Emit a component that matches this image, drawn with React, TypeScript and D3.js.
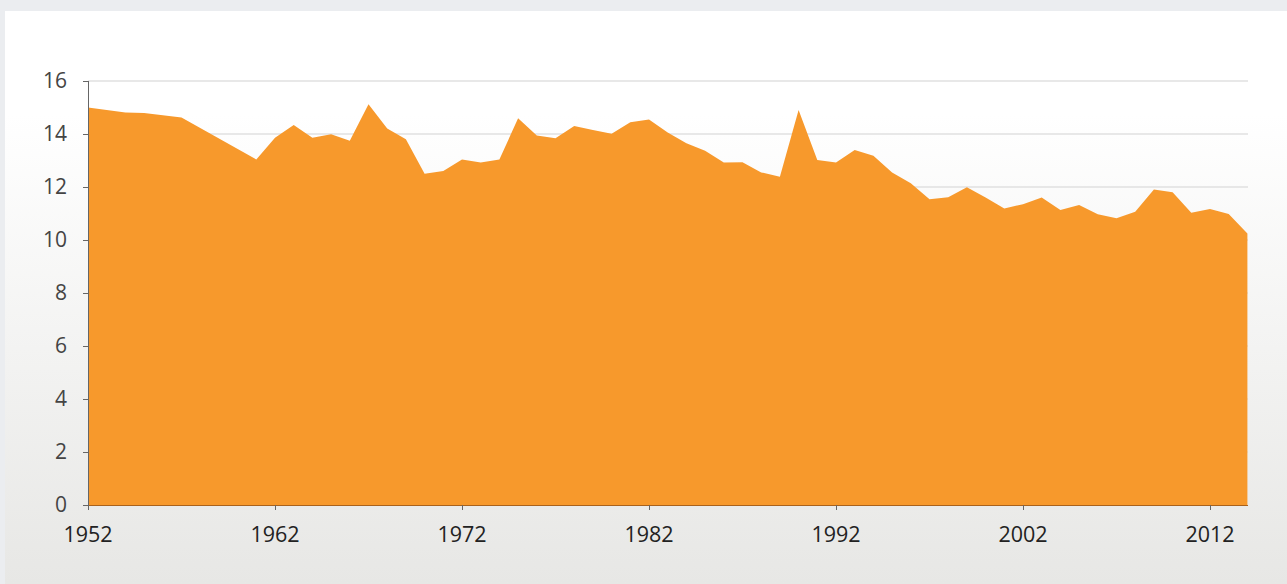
import React from "react";
import * as d3 from "d3";

const years = [1952, 1954, 1955, 1957, 1961, 1962, 1963, 1964, 1965, 1966, 1967, 1968, 1969, 1970, 1971, 1972, 1973, 1974, 1975, 1976, 1977, 1978, 1979, 1980, 1981, 1982, 1983, 1984, 1985, 1986, 1987, 1988, 1989, 1990, 1991, 1992, 1993, 1994, 1995, 1996, 1997, 1998, 1999, 2000, 2001, 2002, 2003, 2004, 2005, 2006, 2007, 2008, 2009, 2010, 2011, 2012, 2013, 2014];
const values = [15.0, 14.81, 14.79, 14.62, 13.04, 13.86, 14.34, 13.86, 13.99, 13.75, 15.12, 14.21, 13.8, 12.5, 12.6, 13.04, 12.92, 13.04, 14.59, 13.94, 13.84, 14.3, 14.15, 14.01, 14.44, 14.55, 14.06, 13.65, 13.37, 12.92, 12.93, 12.55, 12.39, 14.91, 13.02, 12.92, 13.4, 13.18, 12.55, 12.14, 11.54, 11.61, 11.99, 11.6, 11.19, 11.35, 11.6, 11.13, 11.32, 10.97, 10.82, 11.07, 11.91, 11.8, 11.03, 11.17, 10.98, 10.25];
const yTicks = [0, 2, 4, 6, 8, 10, 12, 14, 16];
const xTicks = [1952, 1962, 1972, 1982, 1992, 2002, 2012];

export default function App() {
  const W = 1287, H = 584;
  const x = d3.scaleLinear().domain([1952, 2014]).range([88, 1247.4]);
  const y = d3.scaleLinear().domain([0, 16]).range([505, 81]);
  const data = years.map((yr, i) => ({ yr, v: values[i] }));
  const area = d3.area<{ yr: number; v: number }>()
    .x(d => x(d.yr))
    .y0(y(0))
    .y1(d => y(d.v));
  const font = "'Open Sans', 'Noto Sans', sans-serif";
  return (
    <svg width={W} height={H} style={{ position: "absolute", left: 0, top: 0, display: "block" }}>
      <defs>
        <linearGradient id="bg" x1="0" y1="0" x2="0" y2="1">
          <stop offset="0%" stopColor="#ffffff" />
          <stop offset="18%" stopColor="#ffffff" />
          <stop offset="100%" stopColor="#e7e7e5" />
        </linearGradient>
      </defs>
      <rect x={0} y={0} width={W} height={H} fill="#ebedf0" />
      <rect x={5} y={11} width={W - 5} height={H - 11} fill="url(#bg)" />
      {yTicks.filter(t => t > 0).map(t => (
        <line key={"g" + t} x1={88} x2={1248} y1={y(t)} y2={y(t)} stroke="#e0e0e0" strokeWidth={1.5} />
      ))}
      <path d={area(data) || ""} fill="#f7992c" />
      <line x1={88} x2={1248} y1={y(0) + 0.5} y2={y(0) + 0.5} stroke="#a9621c" strokeWidth={1} />
      <line x1={88.5} x2={88.5} y1={y(16)} y2={y(0) + 1} stroke="#666" strokeWidth={1} />
      {yTicks.map(t => (
        <g key={"y" + t}>
          <line x1={83} x2={88} y1={y(t) + 0.5} y2={y(t) + 0.5} stroke="#666" />
          <text x={67} y={y(t)} dy="0.35em" textAnchor="end" fontSize={21} fill="#444" fontFamily={font}>{t}</text>
        </g>
      ))}
      {xTicks.map(t => (
        <g key={"x" + t}>
          <line x1={Math.round(x(t)) + 0.5} x2={Math.round(x(t)) + 0.5} y1={505} y2={510} stroke="#666" />
          <text x={x(t)} y={541.5} textAnchor="middle" fontSize={21.5} fill="#222" fontFamily={font}>{t}</text>
        </g>
      ))}
    </svg>
  );
}
